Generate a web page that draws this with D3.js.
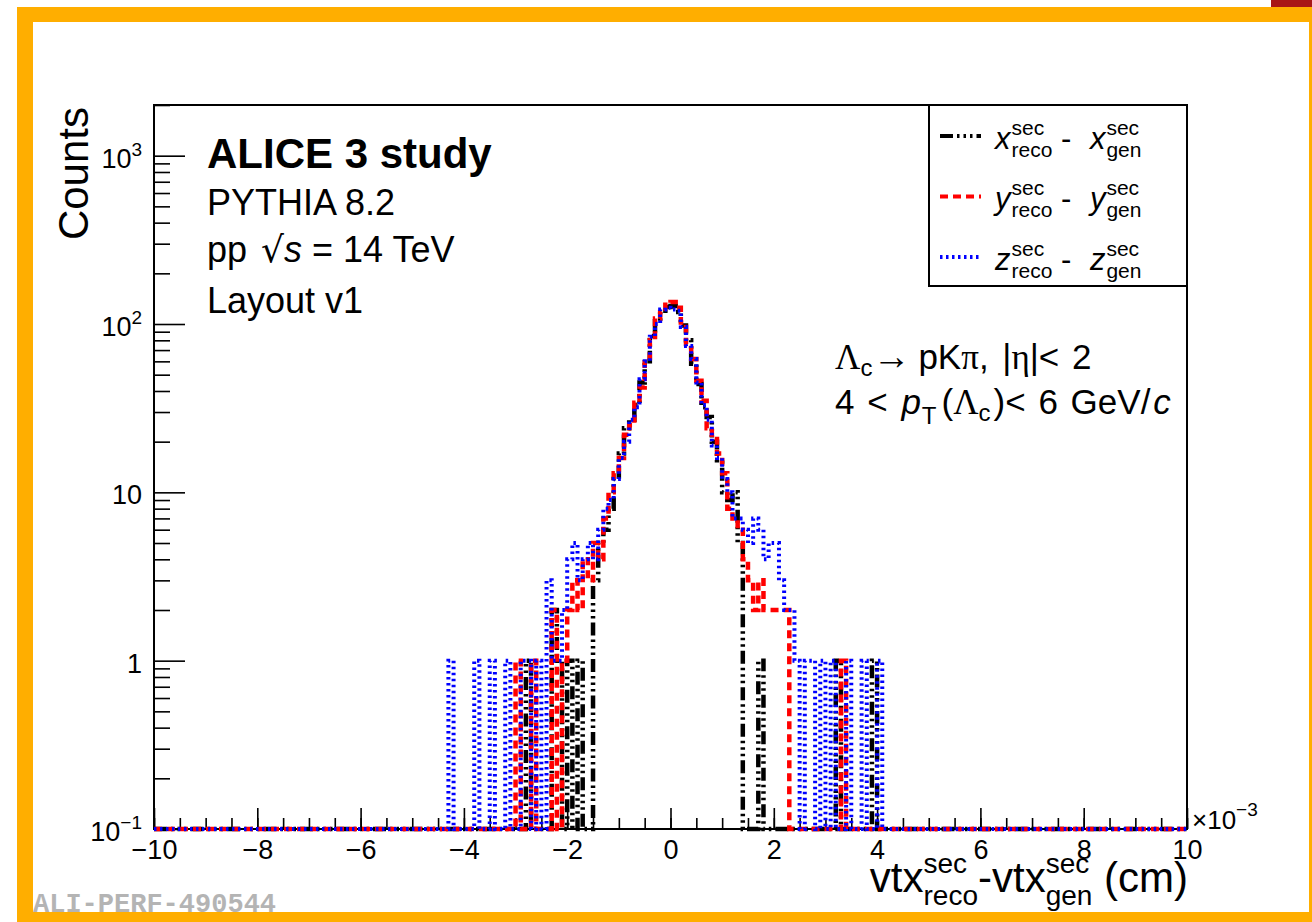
<!DOCTYPE html>
<html>
<head>
<meta charset="utf-8">
<script src="https://cdn.jsdelivr.net/npm/d3@7"></script>
<style>
  body { margin: 0; background: #fff; }
  svg text { font-family: "Liberation Sans", Arial, sans-serif; fill: #000; white-space: pre; }
</style>
</head>
<body>
<div id="chart"></div>
<script>
// histogram bins, x in units of 1e-3 cm (first bin low edge, bin width)
var binStart = -4.5;
var binWidth = 0.1;

// counts per bin, from -4.5 to 4.5 (everything outside is empty)
var countsX = [
  0, 0, 0, 0, 0, 0, 0, 0, 0, 0,
  0, 0, 0, 0, 0, 0, 0, 1, 0, 0,
  0, 0, 2, 1, 0, 1, 0, 1, 0, 0,
  3, 5, 6, 8, 12, 17, 24, 27, 33, 45,
  60, 85, 104, 120, 126, 128, 118, 98, 80, 58,
  44, 32, 28, 20, 15, 10, 9, 10, 5, 0,
  0, 0, 1, 0, 0, 0, 0, 0, 0, 0,
  0, 0, 0, 0, 0, 0, 0, 1, 0, 0,
  0, 0, 0, 0, 1, 0, 0, 0, 0, 0
];
var countsY = [
  0, 0, 0, 0, 0, 0, 0, 0, 0, 0,
  0, 0, 0, 0, 0, 1, 0, 0, 1, 0,
  0, 0, 2, 0, 1, 2, 3, 2, 4, 3,
  5, 4, 7, 10, 13, 16, 22, 25, 34, 42,
  63, 80, 108, 118, 130, 135, 125, 102, 76, 62,
  46, 35, 24, 22, 17, 13, 8, 7, 6, 4,
  3, 2, 3, 2, 2, 2, 2, 2, 0, 0,
  0, 0, 0, 0, 0, 0, 0, 0, 1, 0,
  0, 0, 0, 0, 0, 0, 0, 0, 0, 0
];
var countsZ = [
  0, 0, 1, 0, 0, 0, 0, 1, 0, 0,
  1, 0, 0, 1, 0, 0, 1, 1, 0, 1,
  0, 3, 1, 1, 2, 4, 5, 3, 4, 5,
  4, 6, 8, 9, 12, 16, 20, 27, 32, 47,
  60, 84, 100, 122, 125, 122, 120, 96, 74, 62,
  45, 33, 27, 19, 16, 12, 10, 7, 7, 6,
  5, 7, 6, 4, 5, 5, 3, 2, 2, 1,
  0, 1, 1, 0, 1, 0, 1, 0, 0, 1,
  0, 0, 1, 0, 0, 1, 0, 0, 0, 0
];

var seriesNames = ["x", "y", "z"];
var xTicks = [-10, -8, -6, -4, -2, 0, 2, 4, 6, 8, 10];
var yTicks = [0.1, 1, 10, 100, 1000];
var yTickBase = ["10", "1", "10", "10", "10"];
var yTickExp = ["\u22121", "", "", "2", "3"];

var W = 1312, H = 922;
var frame = { left: 154, right: 1187, top: 105, bottom: 829 };

var svg = d3.select("#chart").append("svg")
  .attr("width", W)
  .attr("height", H);

svg.append("rect").attr("width", W).attr("height", H).attr("fill", "#fff");

var x = d3.scaleLinear().domain([-10, 10]).range([frame.left, frame.right]);
var y = d3.scaleLog().domain([0.1, 2000]).range([frame.bottom, frame.top]);

// small helper for text with sub/superscripts
function rich(parent, px, py, parts, anchor) {
  var g = parent.append("g");
  var cx = 0;
  parts.forEach(function(p) {
    if (p.sup !== undefined) {
      var a = g.append("text").attr("x", cx).attr("y", -p.up).style("font-size", p.size + "px").text(p.sup);
      var b = g.append("text").attr("x", cx).attr("y", p.down).style("font-size", p.size + "px").text(p.sub);
      cx += Math.max(a.node().getComputedTextLength(), b.node().getComputedTextLength()) + (p.gap || 0);
    } else {
      var t = g.append("text").attr("x", cx).attr("y", p.dy || 0).style("font-size", p.size + "px").text(p.text);
      if (p.italic) t.style("font-style", "italic");
      if (p.bold) t.style("font-weight", "bold");
      if (p.family) t.style("font-family", p.family);
      cx += t.node().getComputedTextLength() + (p.gap || 0);
    }
  });
  var dx = anchor === "end" ? -cx : 0;
  g.attr("transform", "translate(" + (px + dx) + "," + py + ")");
  return g;
}

// watermark
svg.append("text")
  .attr("x", 33).attr("y", 912)
  .style("font-family", "'Liberation Mono', 'DejaVu Sans Mono', monospace")
  .style("font-weight", "bold")
  .style("font-size", "27px")
  .style("fill", "#b4b4b4")
  .text("ALI-PERF-490544");

// x axis
var xMinor = d3.range(-10, 10.001, 0.5);
svg.append("g").attr("class", "xminor")
  .attr("transform", "translate(0," + frame.bottom + ")")
  .call(d3.axisBottom(x).tickValues(xMinor).tickSize(-11).tickSizeOuter(0).tickFormat(""));
svg.append("g").attr("class", "xmajor")
  .attr("transform", "translate(0," + frame.bottom + ")")
  .call(d3.axisBottom(x).tickValues(xTicks).tickSize(-21).tickSizeOuter(0).tickPadding(11).tickFormat(d3.format("d")));

// y axis
var yMinor = [];
yTicks.forEach(function(d) {
  for (var m = 2; m <= 9; m++) if (d * m <= 2000) yMinor.push(d * m);
});
svg.append("g").attr("class", "yminor")
  .attr("transform", "translate(" + frame.left + ",0)")
  .call(d3.axisLeft(y).tickValues(yMinor).tickSize(-16).tickSizeOuter(0).tickFormat(""));
svg.append("g").attr("class", "ymajor")
  .attr("transform", "translate(" + frame.left + ",0)")
  .call(d3.axisLeft(y).tickValues(yTicks).tickSize(-31).tickSizeOuter(0).tickFormat(""));

svg.selectAll(".xminor .domain, .xmajor .domain, .yminor .domain, .ymajor .domain").remove();
svg.selectAll(".tick line").attr("stroke", "#000").attr("stroke-width", 1.6);
svg.selectAll(".xmajor text").style("font-size", "27px").attr("fill", "#000");

yTicks.forEach(function(d, i) {
  var parts = [{ text: yTickBase[i], size: 27 }];
  if (yTickExp[i]) parts.push({ text: yTickExp[i], size: 19, dy: -12 });
  rich(svg, 142, y(d) + 12, parts, "end");
});

// frame
svg.append("rect")
  .attr("x", frame.left).attr("y", frame.top)
  .attr("width", frame.right - frame.left).attr("height", frame.bottom - frame.top)
  .attr("fill", "none").attr("stroke", "#000").attr("stroke-width", 2);

// histograms
svg.append("clipPath").attr("id", "plotclip")
  .append("rect")
  .attr("x", frame.left - 2).attr("y", frame.top)
  .attr("width", frame.right - frame.left + 4).attr("height", frame.bottom - frame.top + 3);

var styles = [
  { color: "#000000", dash: "13,4,2.5,4,2.5,4,2.5,4", width: 4.5 },
  { color: "#ff0000", dash: "8,5", width: 4.5 },
  { color: "#0000ff", dash: "2.5,3.5", width: 4 }
];
var allCounts = [countsX, countsY, countsZ];

function stepPoints(counts) {
  var pts = [[-10, 0]];
  counts.forEach(function(c, i) { pts.push([binStart + i * binWidth, c]); });
  pts.push([binStart + counts.length * binWidth, 0]);
  pts.push([10, 0]);
  return pts;
}

var line = d3.line()
  .curve(d3.curveStepAfter)
  .x(function(d) { return x(d[0]); })
  .y(function(d) { return y(Math.max(d[1], 0.1)); });

var hg = svg.append("g").attr("clip-path", "url(#plotclip)");
allCounts.forEach(function(counts, i) {
  hg.append("path")
    .datum(stepPoints(counts))
    .attr("d", line)
    .attr("fill", "none")
    .attr("stroke", styles[i].color)
    .attr("stroke-width", styles[i].width)
    .attr("stroke-dasharray", styles[i].dash);
});

// axis titles
svg.append("text")
  .attr("transform", "translate(88,107) rotate(-90)")
  .attr("text-anchor", "end")
  .style("font-size", "42px")
  .text("Counts");

rich(svg, frame.right + 1, 892, [
  { text: "vtx", size: 42 },
  { sup: "sec", sub: "reco", size: 28, up: 19, down: 13 },
  { text: "-vtx", size: 42 },
  { sup: "sec", sub: "gen", size: 28, up: 19, down: 13 },
  { text: " (cm)", size: 42 }
], "end");

rich(svg, 1192, 829, [
  { text: "\u00d710", size: 26 },
  { text: "\u22123", size: 19, dy: -13 }
]);

// header texts
rich(svg, 207, 168, [{ text: "ALICE 3 study", size: 42, bold: true }]);
rich(svg, 207, 215, [{ text: "PYTHIA 8.2", size: 36 }]);
rich(svg, 207, 262, [
  { text: "pp ", size: 36, gap: 4 },
  { text: "\u221a", size: 36, family: "'DejaVu Sans', sans-serif" },
  { text: "s", size: 36, italic: true },
  { text: " = 14 TeV", size: 36 }
]);
rich(svg, 207, 313, [{ text: "Layout v1", size: 36 }]);

var greek = "'Liberation Serif', 'DejaVu Serif', serif";
rich(svg, 835, 369, [
  { text: "\u039b", size: 35, family: greek },
  { text: "c", size: 24, dy: 7 },
  { text: "\u2192", size: 38, gap: 8 },
  { text: "pK", size: 35 },
  { text: "\u03c0", size: 35, family: greek },
  { text: ", ", size: 35, gap: 4 },
  { text: "|", size: 35 },
  { text: "\u03b7", size: 35, family: greek },
  { text: "|<", size: 35, gap: 3 },
  { text: " 2", size: 35 }
]);
rich(svg, 835, 414, [
  { text: "4 ", size: 35, gap: 3 },
  { text: "< ", size: 35, gap: 4 },
  { text: "p", size: 35, italic: true, gap: 1 },
  { text: "T", size: 24, dy: 10, gap: 5 },
  { text: "(", size: 35 },
  { text: "\u039b", size: 35, family: greek },
  { text: "c", size: 24, dy: 7, gap: 3 },
  { text: ")<", size: 35, gap: 3 },
  { text: " 6 ", size: 35, gap: 3 },
  { text: "GeV/", size: 35, gap: 3 },
  { text: "c", size: 35, italic: true }
]);

// legend
var lg = svg.append("g");
lg.append("rect")
  .attr("x", 929).attr("y", frame.top)
  .attr("width", frame.right - 929).attr("height", 181)
  .attr("fill", "#fff").attr("stroke", "#000").attr("stroke-width", 2);

seriesNames.forEach(function(name, i) {
  var ly = 136 + i * 60.5;
  lg.append("line")
    .attr("x1", 940).attr("x2", 981)
    .attr("y1", ly).attr("y2", ly)
    .attr("stroke", styles[i].color)
    .attr("stroke-width", 4)
    .attr("stroke-dasharray", styles[i].dash);
  rich(lg, 995, ly + 12.5, [
    { text: name, size: 31, italic: true, gap: 1 },
    { sup: "sec", sub: "reco", size: 21, up: 14, down: 8 },
    { text: " - ", size: 31, gap: 10 },
    { text: name, size: 31, italic: true, gap: 1 },
    { sup: "sec", sub: "gen", size: 21, up: 14, down: 8 }
  ]);
});

// orange border and corner block
var orange = "#ffae00";
svg.append("rect").attr("x", 17).attr("y", 7).attr("width", W - 17).attr("height", 15).attr("fill", orange);
svg.append("rect").attr("x", 17).attr("y", 7).attr("width", 16).attr("height", H - 7).attr("fill", orange);
svg.append("rect").attr("x", 17).attr("y", 912).attr("width", W - 17).attr("height", 10).attr("fill", orange);
svg.append("rect").attr("x", 1309).attr("y", 7).attr("width", 3).attr("height", H - 7).attr("fill", orange);
svg.append("rect").attr("x", 1271).attr("y", 0).attr("width", W - 1271).attr("height", 7).attr("fill", "#a81616");
</script>
</body>
</html>
